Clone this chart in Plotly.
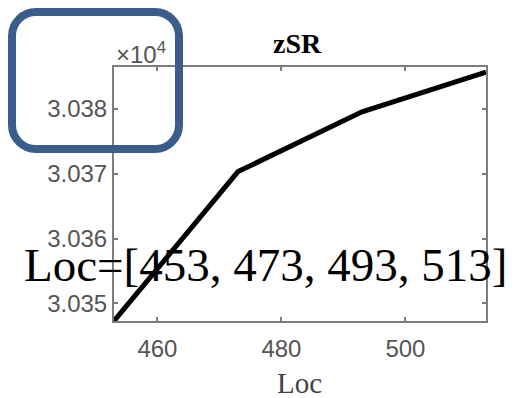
import plotly.graph_objects as go

# Surface-roughness position scan
loc = [453, 473, 493, 513]
zsr = [30347.3, 30370.3, 30379.5, 30385.6]

x_ticks = [460, 480, 500]
y_ticks = [30350, 30360, 30370, 30380]
y_tick_text = ["3.035", "3.036", "3.037", "3.038"]

W, H = 514, 398
M_L, M_R, M_T, M_B = 114, 28, 67, 77
PW, PH = W - M_L - M_R, H - M_T - M_B


def px(x):
    return (x - M_L) / PW


def py(y):
    return (H - M_B - y) / PH


def rounded_rect(x0, y0, x1, y1, r):
    k = 0.5523 * r
    pts = [
        ("M", [(x0 + r, y0)]),
        ("L", [(x1 - r, y0)]),
        ("C", [(x1 - r + k, y0), (x1, y0 + r - k), (x1, y0 + r)]),
        ("L", [(x1, y1 - r)]),
        ("C", [(x1, y1 - r + k), (x1 - r + k, y1), (x1 - r, y1)]),
        ("L", [(x0 + r, y1)]),
        ("C", [(x0 + r - k, y1), (x0, y1 - r + k), (x0, y1 - r)]),
        ("L", [(x0, y0 + r)]),
        ("C", [(x0, y0 + r - k), (x0 + r - k, y0), (x0 + r, y0)]),
    ]
    out = []
    for cmd, p in pts:
        out.append(cmd + " ".join(f"{px(a):.5f},{py(b):.5f}" for a, b in p))
    return " ".join(out) + " Z"


AXIS = "#7d7d7d"
SANS = "Liberation Sans, Arial, sans-serif"
TICKFONT = dict(family=SANS, size=24, color="#555555")
SERIF = "Liberation Serif"

fig = go.Figure()
fig.add_trace(go.Scatter(
    x=loc, y=zsr, mode="lines",
    line=dict(color="black", width=5),
    showlegend=False, hoverinfo="skip",
))

fig.update_layout(
    width=W, height=H,
    margin=dict(l=M_L, r=M_R, t=M_T, b=M_B),
    paper_bgcolor="white", plot_bgcolor="white",
    xaxis=dict(
        range=[453, 513], tickvals=x_ticks, ticks="inside", ticklen=4,
        tickcolor=AXIS, tickwidth=1.5, showline=True, linecolor=AXIS,
        linewidth=2, mirror="ticks", showgrid=False, zeroline=False,
        tickfont=TICKFONT, ticklabelstandoff=5,
    ),
    yaxis=dict(
        range=[30347.3, 30386.4], tickvals=y_ticks, ticktext=y_tick_text,
        ticks="inside", ticklen=4, tickcolor=AXIS, tickwidth=1.5,
        showline=True, linecolor=AXIS, linewidth=2, mirror="ticks",
        showgrid=False, zeroline=False, tickfont=TICKFONT,
    ),
)

annotations = [
    dict(text="zSR", x=px(297), y=py(44), xanchor="center", yanchor="middle",
         font=dict(family=SERIF, size=28, color="black", weight="bold")),
    dict(text="×10<sup>4</sup>", x=px(114), y=py(53), xanchor="left", yanchor="middle",
         font=dict(family=SANS, size=24, color="#555555")),
    dict(text="Loc", x=px(299), y=py(383), xanchor="center", yanchor="middle",
         font=dict(family=SERIF, size=29, color="#444444")),
    dict(text="Loc=[453, 473, 493, 513]", x=px(265), y=py(265), xanchor="center",
         yanchor="middle", font=dict(family=SERIF, size=47, color="black")),
]
for a in annotations:
    fig.add_annotation(xref="paper", yref="paper", showarrow=False, **a)

fig.add_shape(
    type="path", xref="paper", yref="paper",
    path=rounded_rect(12, 12, 179, 149, 24),
    line=dict(color="#3a5d8b", width=8), layer="above",
)

fig.write_html("out.html")
